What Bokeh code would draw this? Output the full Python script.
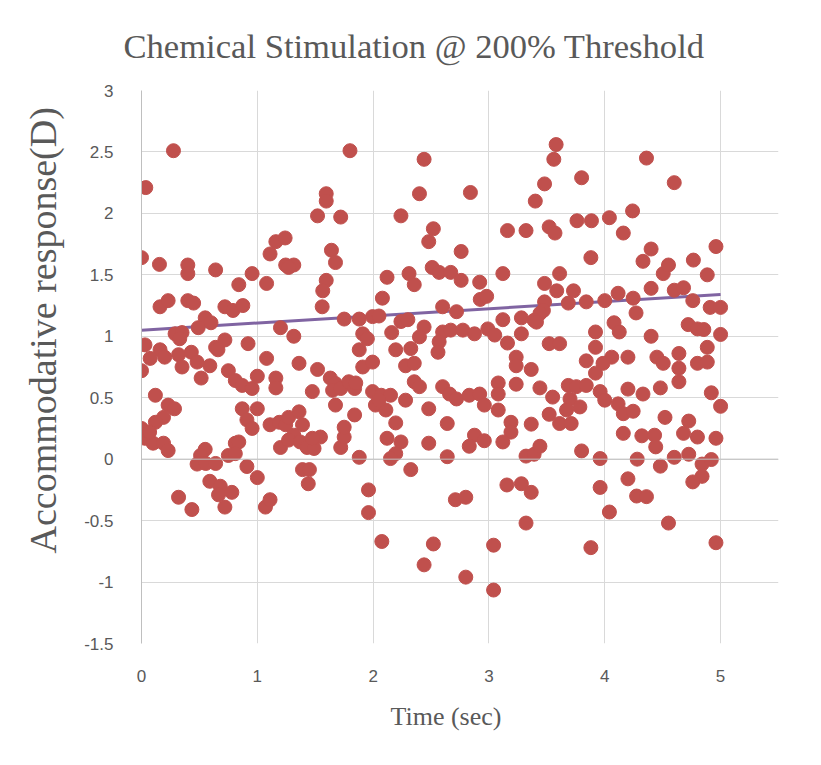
from bokeh.plotting import figure
from bokeh.models import Range1d, Span, Title
from bokeh.embed import file_html
from bokeh.resources import INLINE

# ---- data ----
time_sec = [
    # 0 - 0.97
    0.276, 0.037, 0.0, 0.155, 0.40, 0.40, 0.64, 0.84, 0.16, 0.23, 0.40, 0.45, 0.72, 0.79,
    0.55, 0.60, 0.49, 0.29, 0.35, 0.33, 0.03, 0.16, 0.075, 0.20, 0.32, 0.43, 0.48, 0.64,
    0.72, 0.66, 0.0, 0.35, 0.59, 0.75, 0.515, 0.81, 0.12, 0.23, 0.285, 0.19, 0.12, 0.0,
    0.03, 0.10, 0.19, 0.23, 0.07, 0.55, 0.51, 0.48, 0.555, 0.64, 0.75, 0.81, 0.59, 0.68,
    0.665, 0.78, 0.72, 0.32, 0.435,
    # 0.8 - 1.75
    1.80, 1.595, 1.595, 1.52, 1.72, 1.16, 1.24, 1.11, 1.64, 1.675, 1.245, 1.315, 1.27,
    0.955, 1.08, 1.595, 1.565, 0.875, 1.56, 1.20, 1.315, 1.75, 0.92, 1.08, 1.36, 1.52,
    0.87, 0.955, 1.0, 1.16, 1.16, 1.475, 1.63, 1.675, 1.65, 1.72, 1.675, 0.87, 1.0, 0.91,
    0.955, 1.11, 1.19, 1.245, 1.27, 1.36, 1.39, 1.315, 1.20, 1.27, 1.37, 1.43, 1.49,
    1.545, 1.475, 1.72, 1.75, 1.75, 0.84, 0.81, 0.91, 1.0, 1.39, 1.45, 1.44, 1.07, 1.11,
    # 1.75 - 2.7
    2.44, 2.40, 2.24, 2.52, 2.48, 2.12, 2.31, 2.355, 2.51, 2.57, 2.67, 2.08, 2.60, 1.88,
    1.995, 2.05, 2.24, 2.30, 2.16, 2.44, 2.40, 2.60, 2.67, 2.57, 2.56, 1.91, 1.95, 1.88,
    2.195, 2.325, 1.91, 1.995, 2.28, 2.355, 1.79, 1.84, 1.85, 1.995, 2.07, 2.15, 2.02,
    2.11, 2.05, 2.28, 2.355, 2.40, 2.60, 2.66, 2.48, 2.64, 1.84, 2.195, 2.12, 2.24, 2.195,
    2.15, 1.88, 2.48, 2.64, 2.325, 1.96, 1.96, 2.71, 2.075, 2.52, 2.44,
    # 2.7 - 3.65
    3.58, 3.56, 2.84, 3.48, 3.40, 3.16, 3.32, 3.52, 3.57, 2.76, 2.76, 2.92, 3.12, 3.48,
    3.61, 3.585, 2.925, 2.98, 3.48, 3.47, 3.44, 3.39, 2.72, 3.12, 3.28, 3.41, 2.775,
    2.875, 2.99, 3.05, 3.16, 3.28, 3.52, 3.61, 3.235, 3.235, 3.365, 3.08, 3.08, 3.235,
    3.44, 3.55, 2.72, 2.83, 2.92, 2.96, 3.08, 3.52, 3.61, 3.19, 3.19, 3.12, 3.365, 2.875,
    2.83, 2.96, 3.32, 3.39, 3.44, 3.155, 3.28, 3.365, 2.80, 3.32, 3.04, 2.80, 3.04,
    # 3.6 - 4.55
    4.36, 3.80, 3.76, 3.885, 4.04, 4.24, 4.16, 4.40, 4.33, 3.88, 4.505, 4.55, 3.73, 4.40,
    3.685, 3.84, 4.0, 4.115, 4.245, 4.27, 4.08, 4.125, 3.92, 4.40, 3.92, 3.84, 4.06, 4.20,
    3.985, 4.45, 4.505, 3.92, 3.685, 3.755, 3.84, 3.70, 3.785, 3.67, 3.71, 3.96, 4.0,
    4.20, 4.33, 4.115, 4.16, 4.245, 4.48, 4.52, 4.16, 4.32, 4.43, 4.44, 3.80, 3.96, 4.28,
    4.48, 4.20, 3.96, 4.275, 4.36, 4.04, 4.55, 3.88,
    # 4.45 - 5
    4.60, 4.96, 4.765, 4.885, 4.60, 4.68, 4.76, 4.91, 5.0, 4.72, 4.80, 4.855, 5.0, 4.885,
    4.64, 4.80, 4.885, 4.64, 4.64, 4.92, 5.0, 4.725, 4.68, 4.80, 4.96, 4.60, 4.725, 4.84,
    4.92, 4.84, 4.76, 4.96,
]
response_d = [
    # 0 - 0.97
    2.51, 2.21, 1.64, 1.585, 1.58, 1.51, 1.54, 1.42, 1.24, 1.29, 1.29, 1.27, 1.24, 1.21,
    1.15, 1.11, 1.07, 1.02, 1.03, 0.98, 0.93, 0.89, 0.82, 0.83, 0.85, 0.87, 0.79, 0.91,
    0.97, 0.89, 0.72, 0.75, 0.76, 0.72, 0.66, 0.64, 0.52, 0.44, 0.41, 0.34, 0.30, 0.25,
    0.17, 0.13, 0.13, 0.07, 0.22, 0.08, 0.03, -0.04, -0.035, -0.035, 0.03, 0.13, -0.18, -0.22,
    -0.29, -0.27, -0.39, -0.31, -0.41,
    # 0.8 - 1.75
    2.51, 2.16, 2.10, 1.98, 1.97, 1.77, 1.80, 1.67, 1.70, 1.60, 1.58, 1.58, 1.56,
    1.51, 1.43, 1.455, 1.37, 1.25, 1.24, 1.07, 1.00, 1.14, 0.94, 0.82, 0.78, 0.73,
    0.60, 0.575, 0.675, 0.66, 0.58, 0.55, 0.66, 0.615, 0.56, 0.575, 0.44, 0.41, 0.41, 0.32,
    0.25, 0.28, 0.30, 0.28, 0.34, 0.385, 0.28, 0.195, 0.095, 0.155, 0.14, 0.095, 0.087,
    0.18, 0.17, 0.095, 0.18, 0.26, 0.14, 0.045, -0.06, -0.15, -0.085, -0.085, -0.20, -0.39, -0.33,
    # 1.75 - 2.7
    2.44, 2.16, 1.98, 1.875, 1.77, 1.48, 1.51, 1.42, 1.56, 1.52, 1.52, 1.31, 1.24, 1.14,
    1.16, 1.165, 1.12, 1.135, 1.03, 1.075, 0.995, 1.035, 1.05, 0.955, 0.87, 1.02, 0.98, 0.89,
    0.89, 0.90, 0.75, 0.79, 0.76, 0.78, 0.63, 0.575, 0.62, 0.55, 0.52, 0.52, 0.44,
    0.40, 0.48, 0.48, 0.63, 0.59, 0.59, 0.53, 0.41, 0.29, 0.36, 0.295, 0.17, 0.14, 0.045,
    0.005, 0.015, 0.13, 0.02, -0.085, -0.25, -0.435, -0.33, -0.67, -0.69, -0.86,
    # 2.7 - 3.65
    2.56, 2.44, 2.17, 2.24, 2.10, 1.86, 1.86, 1.89, 1.84, 1.69, 1.455, 1.44, 1.51, 1.43,
    1.51, 1.37, 1.30, 1.325, 1.28, 1.21, 1.185, 1.13, 1.20, 1.135, 1.15, 1.115, 1.05,
    1.02, 1.06, 1.01, 0.945, 1.02, 0.94, 0.94, 0.83, 0.76, 0.73, 0.62, 0.53, 0.61,
    0.58, 0.505, 0.49, 0.52, 0.53, 0.44, 0.40, 0.365, 0.29, 0.30, 0.22, 0.14, 0.285, 0.195,
    0.105, 0.15, 0.025, 0.04, 0.105, -0.21, -0.20, -0.27, -0.31, -0.52, -0.70, -0.96, -1.065,
    # 3.6 - 4.55
    2.45, 2.29, 1.94, 1.94, 1.965, 2.02, 1.84, 1.71, 1.61, 1.64, 1.51, 1.58, 1.37, 1.39,
    1.27, 1.28, 1.29, 1.35, 1.31, 1.19, 1.11, 1.035, 1.035, 1.00, 0.91, 0.80, 0.83, 0.83,
    0.78, 0.83, 0.78, 0.70, 0.60, 0.59, 0.60, 0.49, 0.425, 0.40, 0.29, 0.55, 0.48,
    0.57, 0.53, 0.45, 0.37, 0.39, 0.58, 0.34, 0.21, 0.19, 0.195, 0.10, 0.067, 0.005, 0.0,
    -0.057, -0.16, -0.23, -0.30, -0.305, -0.43, -0.52, -0.72,
    # 4.45 - 5
    2.25, 1.73, 1.62, 1.50, 1.375, 1.395, 1.29, 1.235, 1.235, 1.095, 1.06, 1.055, 1.015, 0.91,
    0.86, 0.78, 0.79, 0.74, 0.63, 0.54, 0.43, 0.31, 0.21, 0.18, 0.17, 0.015, 0.04, -0.04,
    -0.003, -0.14, -0.185, -0.68,
]
trend_x = [0, 5]
trend_y = [1.05, 1.34]

x_ticks = [0, 1, 2, 3, 4, 5]
x_tick_labels = ["0", "1", "2", "3", "4", "5"]
y_ticks = [-1.5, -1, -0.5, 0, 0.5, 1, 1.5, 2, 2.5, 3]
y_tick_labels = ["-1.5", "-1", "-0.5", "0", "0.5", "1", "1.5", "2", "2.5", "3"]

title_text = "Chemical Stimulation @ 200% Threshold"
x_title = "Time (sec)"
y_title = "Accommodative response(D)"

serif = "Liberation Serif"
text_grey = "#595959"

# ---- figure ----
p = figure(width=821, height=765, output_backend="svg", toolbar_location=None,
           x_range=Range1d(0, 5.5), y_range=Range1d(-1.5, 3),
           min_border_left=141, min_border_right=43,
           min_border_top=90, min_border_bottom=122,
           title=title_text)
p.outline_line_color = None
p.background_fill_color = "white"
p.border_fill_color = "white"

p.title.text_font = serif
p.title.text_font_size = "34.6px"
p.title.text_font_style = "normal"
p.title.text_color = text_grey
p.title.align = "left"
p.title.vertical_align = "top"
p.title.offset = -18
p.title.standoff = 48

# axis titles as side titles so they can be shifted like the reference
p.add_layout(Title(text=x_title, align="left", offset=249, standoff=31,
                   text_font=serif, text_font_size="26px", text_font_style="normal",
                   text_color=text_grey), "below")
p.add_layout(Title(text=y_title, align="left", offset=90, standoff=36,
                   text_font=serif, text_font_size="38px", text_font_style="normal",
                   text_color=text_grey), "left")

for g in (p.xgrid, p.ygrid):
    g.grid_line_color = "#d9d9d9"
    g.grid_line_width = 1
p.xgrid.ticker = x_ticks
p.ygrid.ticker = y_ticks

for ax in (p.xaxis, p.yaxis):
    ax.major_tick_line_color = None
    ax.minor_tick_line_color = None
    ax.major_label_text_font = "Liberation Sans"
    ax.major_label_text_font_size = "17px"
    ax.major_label_text_color = text_grey
p.xaxis.ticker = x_ticks
p.yaxis.ticker = y_ticks
p.xaxis.major_label_overrides = {t: l for t, l in zip(x_ticks, x_tick_labels)}
p.yaxis.major_label_overrides = {t: l for t, l in zip(y_ticks, y_tick_labels)}
p.xaxis.axis_line_color = None
p.yaxis.axis_line_color = "#bfbfbf"
p.yaxis.axis_line_width = 1
p.xaxis.major_label_standoff = 20
p.yaxis.major_label_standoff = 22

p.add_layout(Span(location=0, dimension="width", line_color="#bfbfbf", line_width=1))

p.line(trend_x, trend_y, line_color="#8064a2", line_width=3)
p.scatter(time_sec, response_d, size=14, fill_color="#c0504d", line_color="#c0504d")

open("out.html", "w").write(file_html(p, INLINE))
